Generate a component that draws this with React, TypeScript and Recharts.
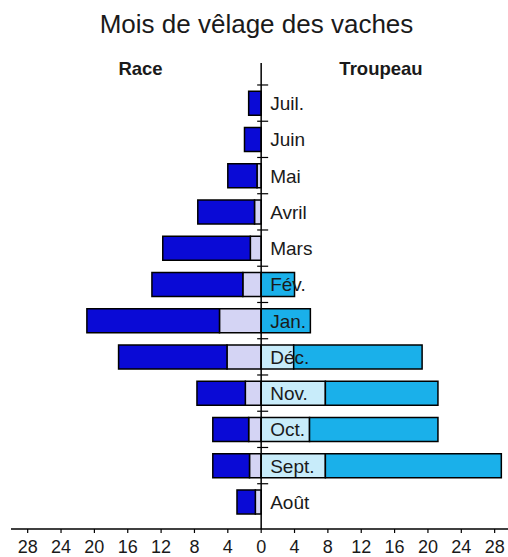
import React from 'react';
import { BarChart, Bar, XAxis, YAxis, ReferenceLine, LabelList } from 'recharts';

const months = ['Juil.', 'Juin', 'Mai', 'Avril', 'Mars', 'Fév.', 'Jan.', 'Déc.', 'Nov.', 'Oct.', 'Sept.', 'Août'];
const raceLight = [0, 0, 0.5, 0.8, 1.3, 2.2, 5.0, 4.1, 1.9, 1.5, 1.4, 0.7];
const raceTotal = [1.5, 2.0, 4.0, 7.6, 11.8, 13.1, 20.9, 17.1, 7.7, 5.8, 5.8, 2.9];
const troupeauLight = [0, 0, 0, 0, 0, 0, 0, 3.9, 7.7, 5.8, 7.7, 0];
const troupeauTotal = [0, 0, 0, 0, 0, 4.0, 5.9, 19.3, 21.2, 21.2, 28.8, 0];
const xTicks = [-28, -24, -20, -16, -12, -8, -4, 0, 4, 8, 12, 16, 20, 24, 28];

const data = months.map((m, i) => ({
  month: m,
  axis: 0,
  raceLight: -raceLight[i],
  raceDark: -(raceTotal[i] - raceLight[i]),
  trLight: troupeauLight[i],
  trDark: troupeauTotal[i] - troupeauLight[i],
}));

const GAP = 0.17;
const FONT = '"Liberation Sans", Arial, Helvetica, sans-serif';

function AxisLabel(props: any) {
  const vb = props.viewBox || {};
  const x = vb.x ?? props.x;
  const y = vb.y ?? props.y;
  const h = vb.height ?? props.height;
  if (x == null || y == null || h == null) return null;
  const bandTop = y - (h * GAP) / (1 - 2 * GAP);
  return (
    <g>
      <line x1={x - 4} x2={x + 7} y1={bandTop} y2={bandTop} stroke="#000" strokeWidth={1.2} />
      <text x={x + 9} y={y + h / 2} dy="0.36em" fontSize={19} fill="#1a1a1a" fontFamily={FONT}>
        {props.value}
      </text>
    </g>
  );
}

export default function App() {
  return (
    <div style={{ position: 'absolute', left: 0, top: 0, width: 508, height: 557, background: '#fff', fontFamily: FONT }}>
      <BarChart
        width={508}
        height={557}
        data={data}
        layout="vertical"
        stackOffset="sign"
        barCategoryGap={`${GAP * 100}%`}
        margin={{ top: 63, right: 0, bottom: 0, left: 11 }}
      >
        <XAxis
          type="number"
          domain={[-30, 29.6]}
          ticks={xTicks}
          allowDataOverflow
          tickFormatter={(v: number) => String(Math.abs(v))}
          axisLine={{ stroke: '#000', strokeWidth: 1.5 }}
          tickLine={{ stroke: '#000', strokeWidth: 1.2 }}
          tickSize={4}
          tickMargin={7}
          height={28}
          tick={{ fill: '#1a1a1a', fontSize: 18 }}
        />
        <YAxis type="category" dataKey="month" hide padding={{ top: 22, bottom: 9 }} />
        <Bar dataKey="axis" stackId="a" fill="none" stroke="none" minPointSize={0.1} isAnimationActive={false}>
          <LabelList dataKey="month" content={AxisLabel} />
        </Bar>
        <Bar dataKey="raceLight" stackId="a" fill="#d4d4f4" stroke="#000" strokeWidth={1.5} isAnimationActive={false} />
        <Bar dataKey="raceDark" stackId="a" fill="#0a0ad6" stroke="#000" strokeWidth={1.5} isAnimationActive={false} />
        <Bar dataKey="trLight" stackId="a" fill="#c8ecfa" stroke="#000" strokeWidth={1.5} isAnimationActive={false} />
        <Bar dataKey="trDark" stackId="a" fill="#1ab0ea" stroke="#000" strokeWidth={1.5} isAnimationActive={false} />
        <ReferenceLine x={0} stroke="#000" strokeWidth={1.5} ifOverflow="visible" />
      </BarChart>
      <svg width={508} height={90} style={{ position: 'absolute', left: 0, top: 0, pointerEvents: 'none' }}>
        <text x={256.5} y={33} textAnchor="middle" fontSize={26} fill="#1a1a1a" fontFamily={FONT}>
          Mois de vêlage des vaches
        </text>
        <text x={140.5} y={75} textAnchor="middle" fontSize={18.5} fontWeight="bold" fill="#1a1a1a" fontFamily={FONT}>
          Race
        </text>
        <text x={381} y={75} textAnchor="middle" fontSize={18.5} fontWeight="bold" fill="#1a1a1a" fontFamily={FONT}>
          Troupeau
        </text>
      </svg>
    </div>
  );
}
